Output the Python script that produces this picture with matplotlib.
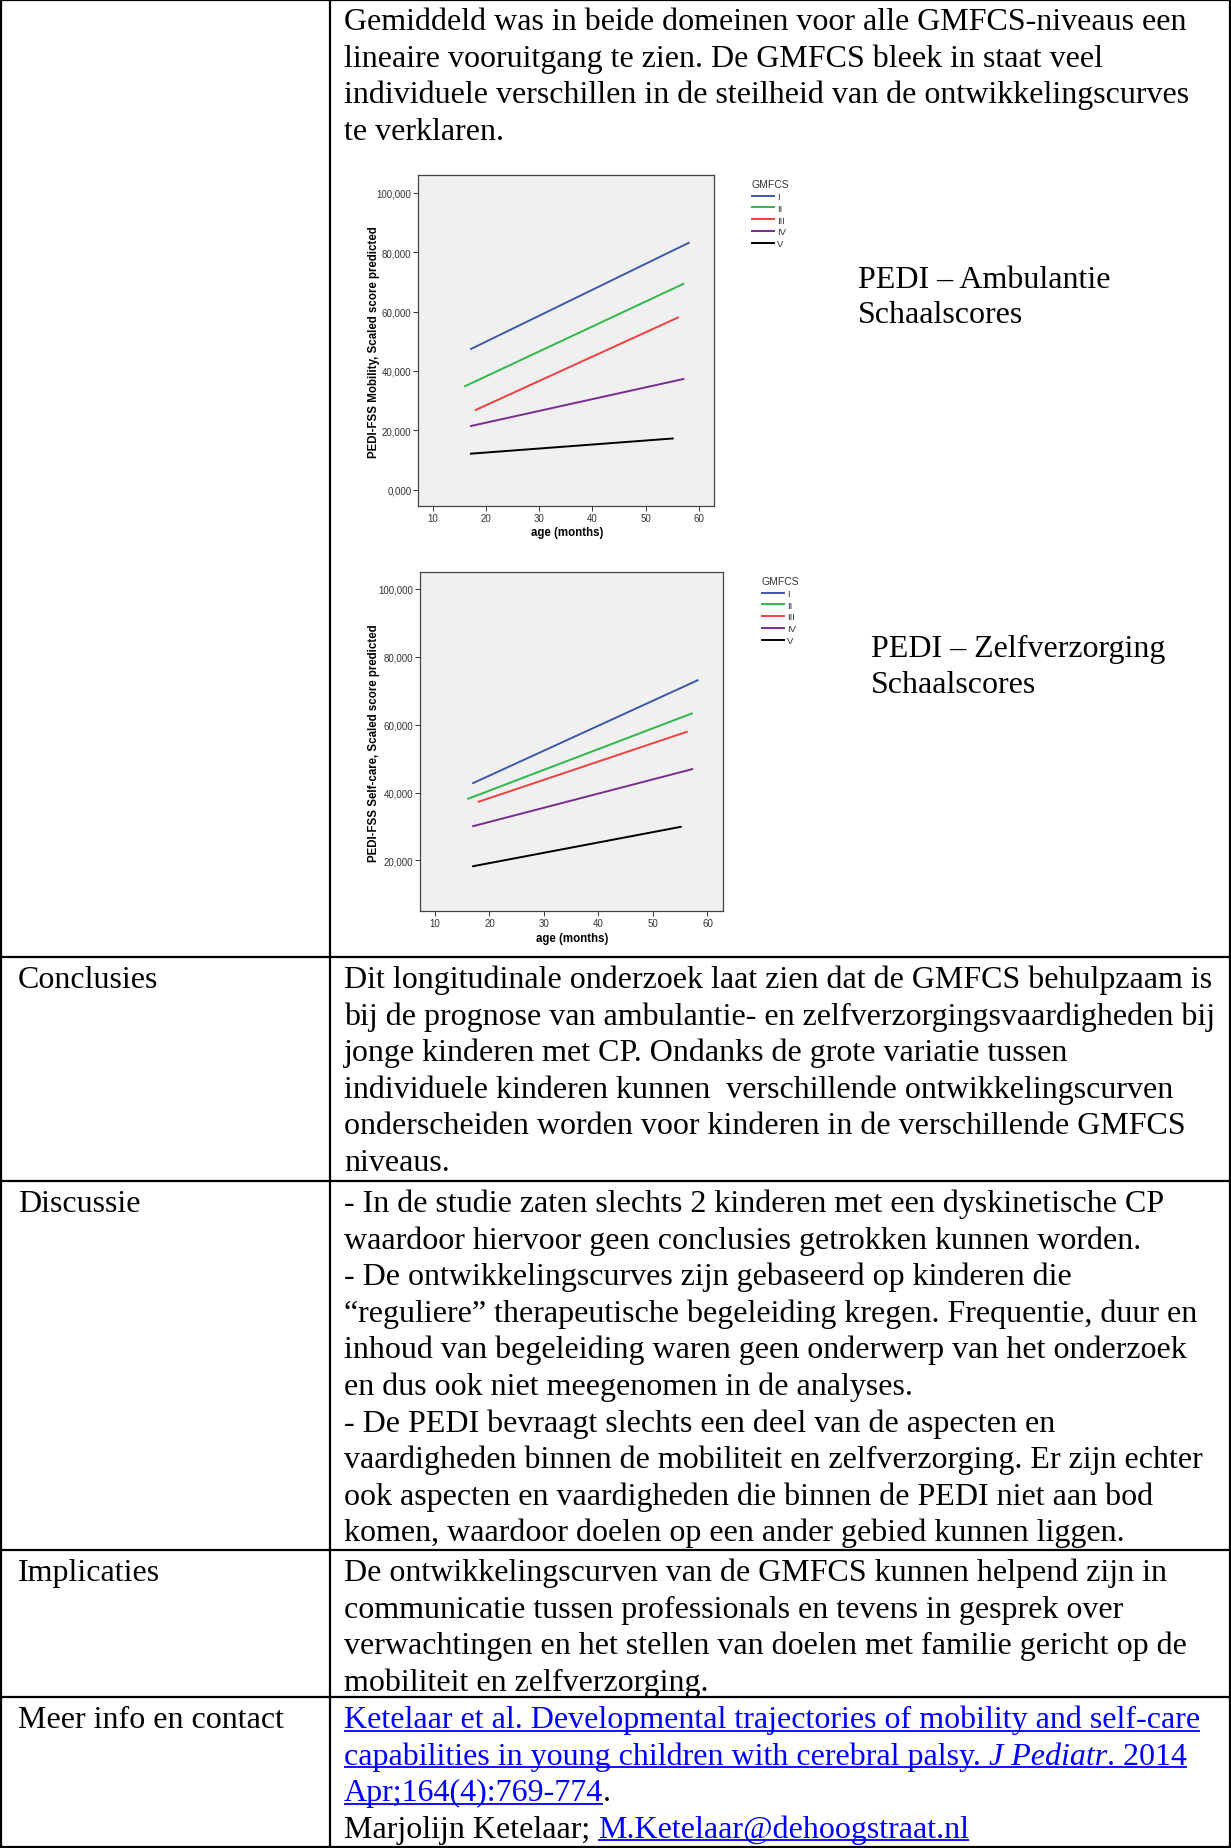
import matplotlib
matplotlib.use("Agg")
from matplotlib import pyplot as plt
from matplotlib.ticker import FuncFormatter

W, H = 1231, 1849
DPI = 100
SERIF = "Liberation Serif"
SANS = "Liberation Sans"
BODY_SIZE = 23
LINE_STEP = 36.6
LINK_BLUE = "#0000FF"

# GMFCS levels and colours (SPSS style)
GMFCS_LEVELS = ["I", "II", "III", "IV", "V"]
LEVEL_COLORS = ["#3E58AC", "#2EB848", "#F0403F", "#7B2C8E", "#000000"]

# PEDI mobility: predicted scaled score at first / last age (months)
MOB_AGE_START = [17.2, 16.1, 18.1, 17.2, 17.2]
MOB_AGE_END = [58.1, 57.1, 56.1, 57.1, 55.1]
MOB_SCORE_START = [47.4, 34.9, 26.9, 21.5, 12.2]
MOB_SCORE_END = [83.1, 69.3, 58.0, 37.3, 17.3]

# PEDI self-care
SC_AGE_START = [17.0, 16.1, 18.0, 17.0, 17.0]
SC_AGE_END = [58.2, 57.1, 56.2, 57.2, 55.1]
SC_SCORE_START = [42.8, 38.2, 37.3, 30.1, 18.3]
SC_SCORE_END = [73.1, 63.3, 57.9, 46.9, 29.9]

AGE_TICKS = [10, 20, 30, 40, 50, 60]
MOB_TICKS = [0, 20, 40, 60, 80, 100]
SC_TICKS = [20, 40, 60, 80, 100]

INTRO_LINES = [
    "Gemiddeld was in beide domeinen voor alle GMFCS-niveaus een",
    "lineaire vooruitgang te zien. De GMFCS bleek in staat veel",
    "individuele verschillen in de steilheid van de ontwikkelingscurves",
    "te verklaren.",
]
CONCLUSIE_LINES = [
    "Dit longitudinale onderzoek laat zien dat de GMFCS behulpzaam is",
    "bij de prognose van ambulantie- en zelfverzorgingsvaardigheden bij",
    "jonge kinderen met CP. Ondanks de grote variatie tussen",
    "individuele kinderen kunnen  verschillende ontwikkelingscurven",
    "onderscheiden worden voor kinderen in de verschillende GMFCS",
    "niveaus.",
]
DISCUSSIE_LINES = [
    "- In de studie zaten slechts 2 kinderen met een dyskinetische CP",
    "waardoor hiervoor geen conclusies getrokken kunnen worden.",
    "- De ontwikkelingscurves zijn gebaseerd op kinderen die",
    "\u201creguliere\u201d therapeutische begeleiding kregen. Frequentie, duur en",
    "inhoud van begeleiding waren geen onderwerp van het onderzoek",
    "en dus ook niet meegenomen in de analyses.",
    "- De PEDI bevraagt slechts een deel van de aspecten en",
    "vaardigheden binnen de mobiliteit en zelfverzorging. Er zijn echter",
    "ook aspecten en vaardigheden die binnen de PEDI niet aan bod",
    "komen, waardoor doelen op een ander gebied kunnen liggen.",
]
IMPLICATIE_LINES = [
    "De ontwikkelingscurven van de GMFCS kunnen helpend zijn in",
    "communicatie tussen professionals en tevens in gesprek over",
    "verwachtingen en het stellen van doelen met familie gericht op de",
    "mobiliteit en zelfverzorging.",
]
# (text, colour, style, underline)
CONTACT_LINES = [
    [("Ketelaar et al. Developmental trajectories of mobility and self-care", LINK_BLUE, "normal", True)],
    [("capabilities in young children with cerebral palsy. ", LINK_BLUE, "normal", True),
     ("J Pediatr", LINK_BLUE, "italic", True),
     (". 2014", LINK_BLUE, "normal", True)],
    [("Apr;164(4):769-774", LINK_BLUE, "normal", True),
     (".", "black", "normal", False)],
    [("Marjolijn Ketelaar; ", "black", "normal", False),
     ("M.Ketelaar@dehoogstraat.nl", LINK_BLUE, "normal", True)],
]

fig = plt.figure(figsize=(W / DPI, H / DPI), dpi=DPI)
bg = fig.add_axes([0, 0, 1, 1])
bg.set_xlim(0, W)
bg.set_ylim(H, 0)
bg.axis("off")


def text_width(s, **kw):
    r = fig.canvas.get_renderer()
    t1 = bg.text(0, 0, s + "x", **kw)
    t2 = bg.text(0, 0, "x", **kw)
    w = t1.get_window_extent(r).width - t2.get_window_extent(r).width
    t1.remove()
    t2.remove()
    return w


def draw_runs(x, y, runs):
    for s, color, style, underline in runs:
        kw = dict(fontsize=BODY_SIZE, family=SERIF, color=color, style=style)
        bg.text(x, y, s, va="baseline", ha="left", **kw)
        w = text_width(s, **kw)
        if underline:
            bg.plot([x, x + w], [y + 3.5, y + 3.5], color=color, lw=1.3,
                    solid_capstyle="butt")
        x += w


def draw_block(x, y0, lines):
    for i, line in enumerate(lines):
        bg.text(x, y0 + i * LINE_STEP, line, va="baseline", ha="left",
                fontsize=BODY_SIZE, family=SERIF, color="black")


# table grid
GRID_KW = dict(color="black", lw=1.6)
bg.plot([1, 1], [0, H], **GRID_KW)
bg.plot([W - 1, W - 1], [0, H], **GRID_KW)
bg.plot([330, 330], [0, H], **GRID_KW)
for yy in [1, 958, 1182, 1551, 1698, H - 1]:
    bg.plot([0, W], [yy, yy], **GRID_KW)

COL1_X = 18
COL2_X = 344
draw_block(COL2_X, 30, INTRO_LINES)

draw_block(COL1_X, 988, ["Conclusies"])
draw_block(COL2_X, 988, CONCLUSIE_LINES)
draw_block(COL1_X, 1212, ["Discussie"])
draw_block(COL2_X, 1212, DISCUSSIE_LINES)
draw_block(COL1_X, 1581, ["Implicaties"])
draw_block(COL2_X, 1581, IMPLICATIE_LINES)
draw_block(COL1_X, 1728, ["Meer info en contact"])
for i, runs in enumerate(CONTACT_LINES):
    draw_runs(COL2_X, 1728 + i * LINE_STEP, runs)

# side titles next to the charts
for x, y, s in [(858, 288, "PEDI \u2013 Ambulantie"), (858, 323, "Schaalscores"),
                (871, 657, "PEDI \u2013 Zelfverzorging"), (871, 693, "Schaalscores")]:
    bg.text(x, y, s, va="baseline", ha="left", fontsize=BODY_SIZE, family=SERIF)


def draw_chart(box, age0, age1, score0, score1, ylim, yticks, ylabel,
               ylabel_xy, xlabel_xy, legend_xy):
    left, top, right, bottom = box
    ax = fig.add_axes([left / W, 1 - bottom / H, (right - left) / W, (bottom - top) / H])
    ax.set_facecolor("#F0F0F0")
    for lvl, c, a0, a1, s0, s1 in zip(GMFCS_LEVELS, LEVEL_COLORS, age0, age1, score0, score1):
        ax.plot([a0, a1], [s0, s1], color=c, lw=1.4, label=lvl)
    ax.set_xlim(7.25, 62.85)
    ax.set_ylim(*ylim)
    ax.set_xticks(AGE_TICKS)
    ax.set_yticks(yticks)
    ax.yaxis.set_major_formatter(FuncFormatter(lambda v, p: f"{v:.3f}".replace(".", ",")))
    ax.tick_params(direction="out", length=3.5, width=0.7, pad=1.2, labelsize=7,
                   colors="#333333")
    for lab in ax.get_xticklabels() + ax.get_yticklabels():
        lab.set_family(SANS)
    for sp in ax.spines.values():
        sp.set_color("#444444")
        sp.set_linewidth(0.9)
    bg.text(ylabel_xy[0], ylabel_xy[1], ylabel, rotation=90, ha="center", va="center",
            fontsize=8.3, fontweight="bold", family=SANS)
    bg.text(xlabel_xy[0], xlabel_xy[1], "age (months)", ha="center", va="center",
            fontsize=8.3, fontweight="bold", family=SANS)
    leg = ax.legend(loc="upper left", bbox_to_anchor=(legend_xy[0] / W, 1 - legend_xy[1] / H),
                    bbox_transform=fig.transFigure, frameon=False, title="GMFCS",
                    alignment="left", borderpad=0, borderaxespad=0, handlelength=2.3,
                    handletextpad=0.35, labelspacing=0.3,
                    prop={"family": SANS, "size": 6.8},
                    title_fontproperties={"family": SANS, "size": 7.5})
    leg.get_title().set_color("#333333")
    for t in leg.get_texts():
        t.set_color("#333333")
    return ax


draw_chart((418, 176, 714, 507), MOB_AGE_START, MOB_AGE_END, MOB_SCORE_START, MOB_SCORE_END,
           (-5.4, 105.9), MOB_TICKS, "PEDI-FSS Mobility, Scaled score predicted",
           (374, 342), (567, 533), (752, 180))
draw_chart((420, 573, 723, 912), SC_AGE_START, SC_AGE_END, SC_SCORE_START, SC_SCORE_END,
           (5.1, 105.0), SC_TICKS, "PEDI-FSS Self-care, Scaled score predicted",
           (374, 743), (572, 939), (762, 577))

fig.savefig("out.png", dpi=DPI)
